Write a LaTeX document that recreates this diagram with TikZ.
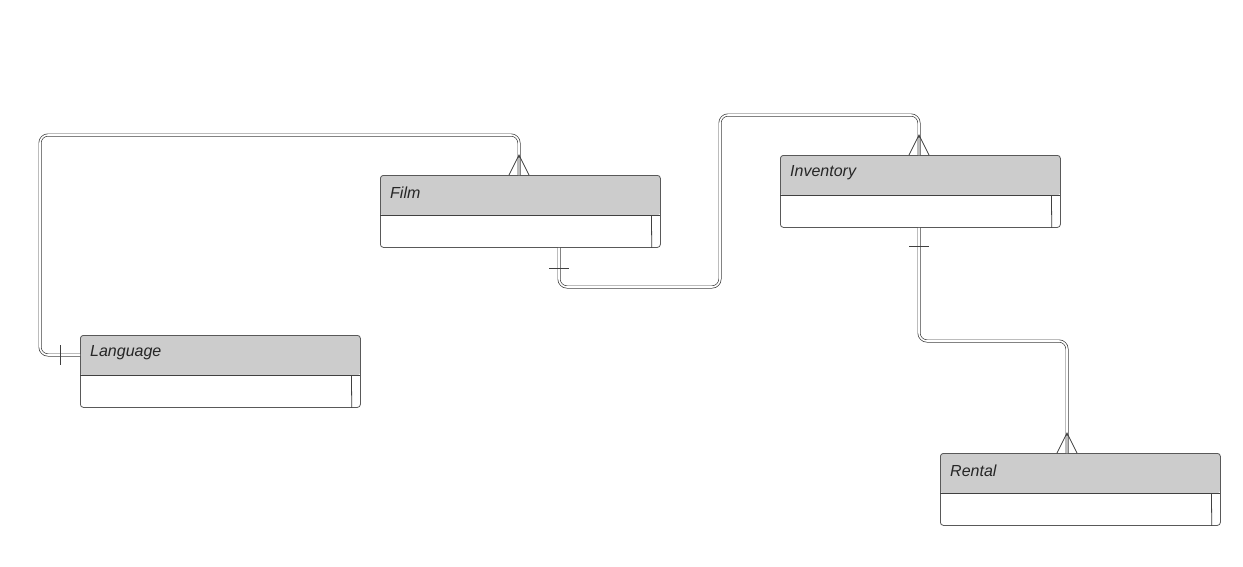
\documentclass[tikz,border=0pt]{standalone}
\usepackage{fontspec}
\setmainfont{Liberation Sans}
\begin{document}
\begin{tikzpicture}[x=1pt,y=-1pt,
  ent/.style={draw=black!65,line width=0.8pt,rounded corners=3pt,minimum width=280pt,minimum height=72pt,inner sep=0pt},
  hdr/.style={fill=black!20,rounded corners=3pt,minimum width=280pt,minimum height=40pt,inner sep=0pt},
  lbl/.style={font=\itshape\fontsize{16}{19}\selectfont,text=black!85,anchor=west,inner sep=0pt},
  conn/.style={draw=black!75,line width=0.7pt,double=white,double distance=1.6pt,rounded corners=8pt},
  mk/.style={draw=black!75,line width=0.7pt}]
\useasboundingbox (0,0) rectangle (1243,566);
\newcommand{\entity}[4]{% name, left x, top y, label
  \node[hdr,anchor=north west] (#1h) at (#2,#3) {};
  \fill[black!20] ([yshift=-8pt]#1h.south west) rectangle (#1h.south east);
  \fill[white] (#1h.south west) rectangle ([yshift=-32pt]#1h.south east);
  \node[ent,anchor=north west] (#1) at (#2,#3) {};
  \draw[black!75,line width=0.8pt] (#1h.south west) -- (#1h.south east);
  \draw[black!75,line width=0.8pt] ([xshift=-9pt]#1h.south east) -- ([xshift=-9pt]#1.south east);
  \node[lbl] (#1t) at ([xshift=10pt,yshift=-18pt]#1.north west) {#4};
}
\entity{film}{380}{175}{Film}
\entity{inv}{780}{155}{Inventory}
\entity{lang}{80}{335}{Language}
\entity{rent}{940}{453}{Rental}
% Language - Film
\coordinate (a1) at (519,175);
\draw[conn] (lang.west |- 0,355) -- (40,355) -- (40,135) -- (519,135) -- (a1);
\draw[mk] (60,345) -- (60,365);
\draw[mk] (509,175) -- (519,155) -- (529,175) (519,155) -- (519,175);
% Film - Inventory
\draw[conn] (film.south -| 559,0) -- (559,287) -- (720,287) -- (720,115) -- (919,115) -- (inv.north -| 919,0);
\draw[mk] (549,268) -- (569,268);
\draw[mk] (909,155) -- (919,135) -- (929,155) (919,135) -- (919,155);
% Inventory - Rental
\draw[conn] (inv.south -| 919,0) -- (919,341) -- (1067,341) -- (rent.north -| 1067,0);
\draw[mk] (909,246) -- (929,246);
\draw[mk] (1057,453) -- (1067,433) -- (1077,453) (1067,433) -- (1067,453);
\end{tikzpicture}
\end{document}
